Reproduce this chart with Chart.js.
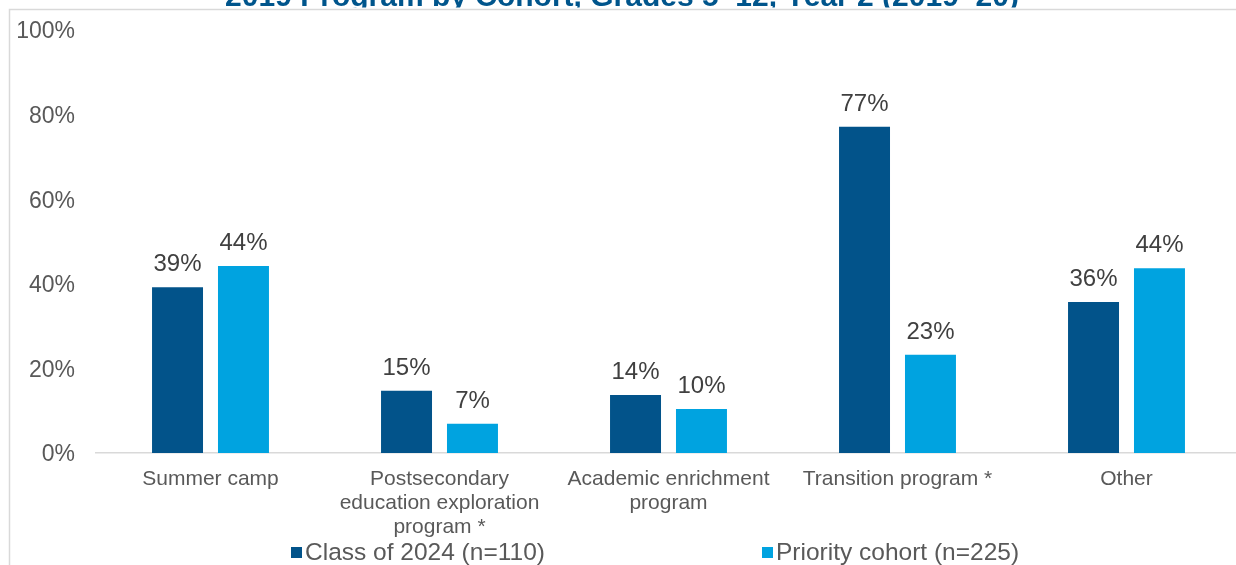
<!DOCTYPE html>
<html lang="en">
<head>
    <meta charset="UTF-8">
    <title>Program by Cohort</title>
    <script src="https://cdn.jsdelivr.net/npm/chart.js"></script>
    <style>
        body { margin: 0; overflow: hidden; background: #fff; }
        canvas { display: block; }
    </style>
</head>
<body>
    <canvas id="myChart" width="1250" height="565"></canvas>
    <script>
        // data
        const categories = [
            'Summer camp',
            ['Postsecondary', 'education exploration', 'program *'],
            ['Academic enrichment', 'program'],
            'Transition program *',
            'Other'
        ];
        const class2024 = [39.2, 14.7, 13.7, 77.1, 35.7];
        const priorityCohort = [44.2, 6.9, 10.4, 23.2, 43.7];
        const seriesNames = ['Class of 2024 (n=110)', 'Priority cohort (n=225)'];
        const yTicks = [0, 20, 40, 60, 80, 100];
        const title = '2019 Program by Cohort, Grades 5\u201312, Year 2 (2019\u201320)';

        const textGray = '#595959';
        const font = 'Liberation Sans, Arial, sans-serif';

        // frame lines, cut-off title, value labels, legend
        const extras = {
            id: 'extras',
            beforeDraw(chart) {
                const ctx = chart.ctx;
                ctx.save();
                ctx.strokeStyle = '#d9d9d9';
                ctx.lineWidth = 1.5;
                ctx.beginPath();
                ctx.moveTo(9.5, chart.height);
                ctx.lineTo(9.5, 9.5);
                ctx.lineTo(chart.width, 9.5);
                ctx.stroke();

                // title only shows its lower edge above the frame
                ctx.beginPath();
                ctx.rect(0, 0, chart.width, 7.5);
                ctx.clip();
                ctx.fillStyle = '#00558C';
                ctx.font = 'bold 30px ' + font;
                ctx.textAlign = 'center';
                ctx.textBaseline = 'alphabetic';
                ctx.fillText(title, 622, 6);
                ctx.restore();
            },
            afterDraw(chart) {
                const ctx = chart.ctx;
                ctx.save();
                ctx.font = '24px ' + font;
                ctx.fillStyle = '#404040';
                ctx.textAlign = 'center';
                ctx.textBaseline = 'alphabetic';
                chart.data.datasets.forEach((ds, i) => {
                    chart.getDatasetMeta(i).data.forEach((bar, j) => {
                        ctx.fillText(Math.round(ds.data[j]) + '%', bar.x, bar.y - 16);
                    });
                });

                const legendX = [291, 762];
                ctx.font = '24.5px ' + font;
                ctx.textAlign = 'left';
                ctx.textBaseline = 'middle';
                chart.data.datasets.forEach((ds, i) => {
                    ctx.fillStyle = ds.backgroundColor;
                    ctx.fillRect(legendX[i], 547, 11, 11);
                    ctx.fillStyle = textGray;
                    ctx.fillText(ds.label, legendX[i] + 14, 553);
                });
                ctx.restore();
            }
        };

        const ctx = document.getElementById('myChart').getContext('2d');
        const myChart = new Chart(ctx, {
            type: 'bar',
            data: {
                labels: categories,
                datasets: [{
                    label: seriesNames[0],
                    data: class2024,
                    backgroundColor: '#02538A',
                    categoryPercentage: 0.576,
                    barPercentage: 0.773
                }, {
                    label: seriesNames[1],
                    data: priorityCohort,
                    backgroundColor: '#00A3E0',
                    categoryPercentage: 0.576,
                    barPercentage: 0.773
                }]
            },
            options: {
                responsive: false,
                animation: false,
                layout: { padding: { top: 30, right: 9, bottom: 0, left: 0 } },
                plugins: {
                    legend: { display: false },
                    tooltip: { enabled: false }
                },
                scales: {
                    x: {
                        grid: { display: false },
                        border: { color: '#d9d9d9', width: 1.5 },
                        ticks: {
                            color: textGray,
                            font: { family: font, size: 21, lineHeight: 1.143 },
                            padding: 6,
                            maxRotation: 0,
                            autoSkip: false
                        },
                        afterFit(scale) { scale.height = 112; }
                    },
                    y: {
                        min: 0,
                        max: 100,
                        afterBuildTicks(scale) { scale.ticks = yTicks.map(v => ({ value: v })); },
                        grid: { display: false },
                        border: { display: false },
                        ticks: {
                            color: textGray,
                            font: { family: font, size: 23 },
                            padding: 13,
                            labelOffset: 2,
                            callback: v => v + '%'
                        },
                        afterFit(scale) { scale.width = 96; }
                    }
                }
            },
            plugins: [extras]
        });
    </script>
</body>
</html>
